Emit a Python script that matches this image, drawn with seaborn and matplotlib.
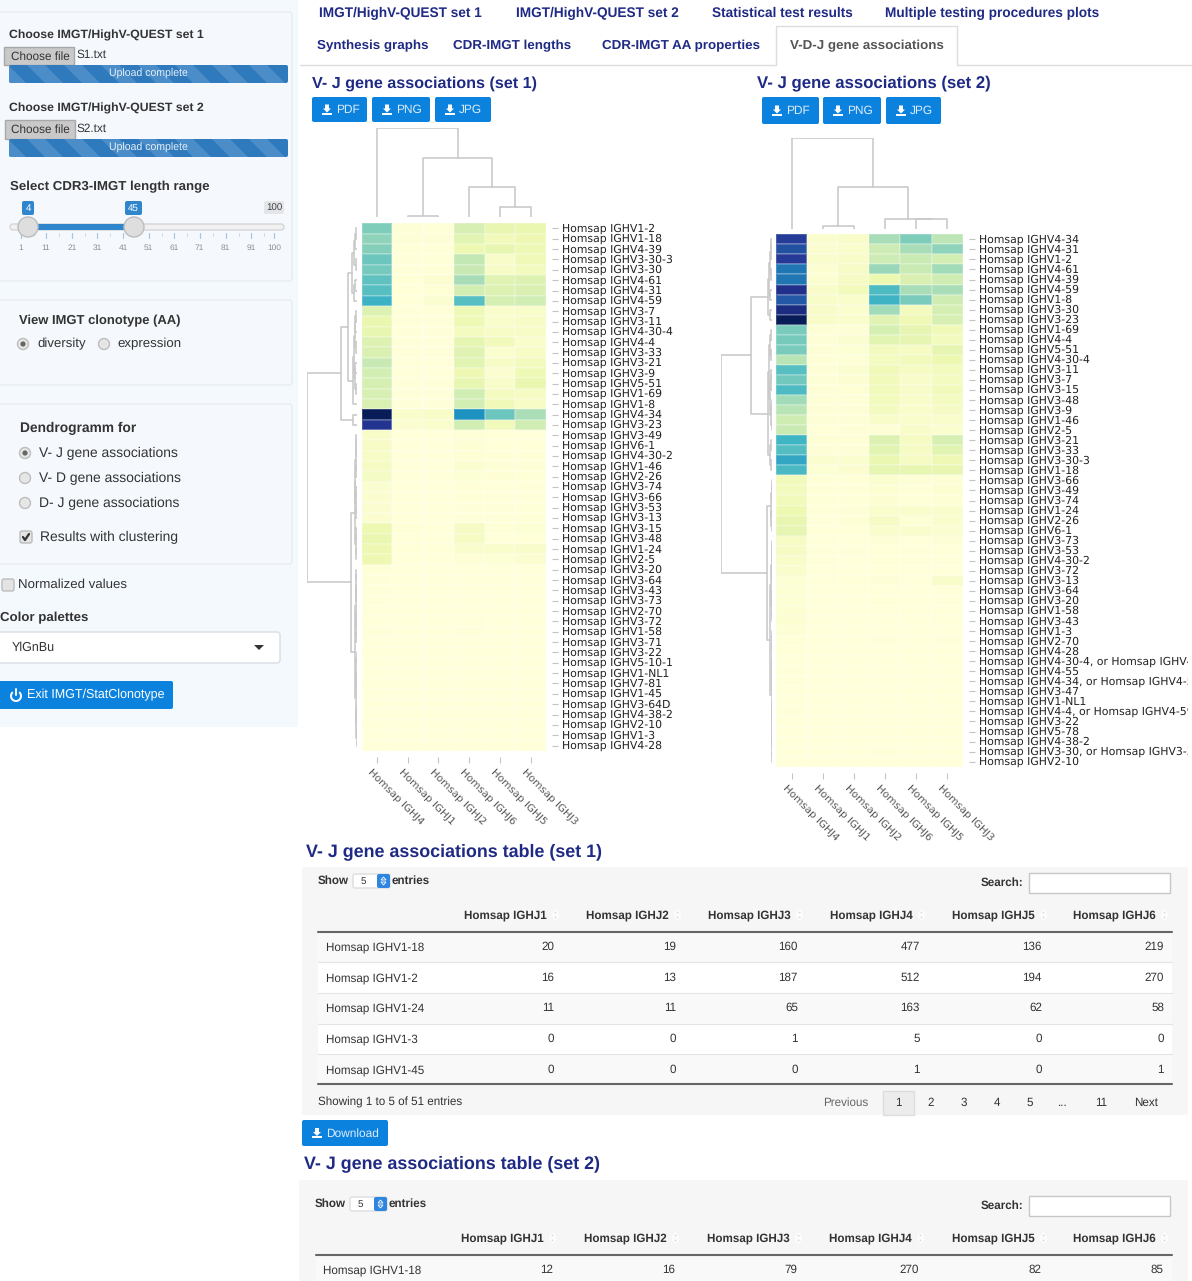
import matplotlib
matplotlib.use('Agg')
import matplotlib.pyplot as plt
from matplotlib.patches import Rectangle, Circle, FancyBboxPatch, Polygon, Arc
from matplotlib.transforms import Bbox, ScaledTranslation
import pandas as pd
import seaborn as sns

sns.set_theme(style='white')
plt.rcParams['font.family'] = ['DejaVu Sans']
plt.rcParams['text.hinting'] = 'none'

# heatmap columns, same order in both sets
j_genes = ['Homsap IGHJ4', 'Homsap IGHJ1', 'Homsap IGHJ2', 'Homsap IGHJ6', 'Homsap IGHJ5', 'Homsap IGHJ3']

v_genes_1 = ['1-2', '1-18', '4-39', '3-30-3', '3-30', '4-61', '4-31', '4-59', '3-7', '3-11', '4-30-4', '4-4',
             '3-33', '3-21', '3-9', '5-51', '1-69', '1-8', '4-34', '3-23', '3-49', '6-1', '4-30-2', '1-46',
             '2-26', '3-74', '3-66', '3-53', '3-13', '3-15', '3-48', '1-24', '2-5', '3-20', '3-64', '3-43',
             '3-73', '2-70', '3-72', '1-58', '3-71', '3-22', '5-10-1', '1-NL1', '7-81', '1-45', '3-64D',
             '4-38-2', '2-10', '1-3', '4-28']

counts_1 = [[512, 16, 13, 270, 194, 187], [477, 20, 19, 219, 136, 160], [500, 15, 15, 170, 200, 150],
            [560, 10, 15, 350, 70, 140], [540, 10, 15, 340, 80, 120], [600, 14, 40, 420, 230, 240],
            [620, 15, 25, 290, 250, 260], [700, 15, 45, 620, 280, 300], [240, 8, 12, 150, 60, 70],
            [190, 8, 10, 150, 60, 80], [200, 10, 10, 110, 85, 80], [250, 8, 10, 210, 130, 60],
            [260, 8, 8, 230, 50, 75], [340, 8, 8, 220, 80, 120], [290, 8, 10, 160, 40, 150],
            [280, 6, 10, 200, 70, 190], [270, 6, 6, 300, 110, 100], [260, 10, 10, 290, 140, 80],
            [1365, 60, 70, 850, 560, 410], [1200, 40, 60, 300, 130, 300], [70, 5, 5, 20, 15, 10],
            [80, 5, 5, 25, 15, 15], [75, 5, 4, 25, 15, 12], [100, 5, 5, 50, 20, 18], [95, 4, 4, 30, 25, 15],
            [45, 3, 3, 15, 8, 8], [42, 3, 3, 12, 6, 10], [40, 3, 3, 10, 6, 12], [40, 3, 3, 10, 6, 15],
            [170, 12, 4, 90, 12, 30], [190, 6, 6, 100, 8, 12], [163, 11, 11, 58, 62, 65], [165, 4, 4, 20, 30, 40],
            [12, 1, 0, 3, 2, 2], [10, 1, 0, 3, 2, 2], [10, 0, 0, 4, 1, 2], [8, 0, 0, 5, 1, 1], [6, 0, 0, 2, 1, 1],
            [5, 0, 0, 8, 1, 1], [8, 0, 0, 8, 1, 1], [4, 0, 0, 2, 0, 1], [3, 0, 0, 1, 0, 0], [2, 0, 0, 1, 0, 1],
            [2, 0, 0, 1, 0, 0], [2, 0, 0, 1, 0, 0], [1, 0, 0, 1, 0, 0], [2, 0, 0, 0, 0, 1], [2, 0, 0, 1, 0, 0],
            [2, 0, 0, 0, 0, 0], [5, 0, 0, 0, 0, 1], [1, 0, 0, 0, 0, 0]]

v_genes_2 = ['4-34', '4-31', '1-2', '4-61', '4-39', '4-59', '1-8', '3-30', '3-23', '1-69', '4-4', '5-51', '4-30-4',
             '3-11', '3-7', '3-15', '3-48', '3-9', '1-46', '2-5', '3-21', '3-33', '3-30-3', '1-18', '3-66', '3-49',
             '3-74', '1-24', '2-26', '6-1', '3-73', '3-53', '4-30-2', '3-72', '3-13', '3-64', '3-20', '1-58', '3-43',
             '1-3', '2-70', '4-28', '4-30-4, or Homsap IGHV4-31', '4-55', '4-34, or Homsap IGHV4-59', '3-47', '1-NL1',
             '4-4, or Homsap IGHV4-59', '3-22', '5-78', '4-38-2', '3-30, or Homsap IGHV3-33', '2-10']

counts_2 = [[476, 20, 30, 170, 210, 150], [440, 18, 25, 130, 170, 195], [480, 22, 30, 130, 135, 120],
            [385, 15, 35, 185, 135, 175], [385, 15, 35, 70, 105, 125], [500, 30, 55, 265, 170, 170],
            [430, 30, 25, 285, 215, 125], [510, 30, 20, 175, 50, 115], [560, 30, 25, 95, 65, 110],
            [215, 8, 8, 115, 85, 60], [220, 8, 18, 90, 85, 50], [215, 8, 12, 50, 40, 85], [155, 6, 8, 45, 55, 70],
            [255, 8, 18, 60, 40, 50], [225, 8, 14, 55, 30, 45], [265, 8, 10, 55, 30, 55], [175, 8, 8, 50, 30, 45],
            [155, 8, 8, 45, 25, 35], [125, 8, 8, 30, 25, 25], [135, 6, 8, 8, 30, 20], [280, 10, 8, 100, 40, 110],
            [260, 8, 8, 90, 40, 90], [310, 20, 20, 75, 40, 65], [270, 12, 16, 85, 82, 79], [55, 5, 5, 20, 8, 10],
            [50, 5, 5, 15, 5, 15], [55, 5, 5, 15, 6, 10], [70, 5, 8, 25, 25, 25], [80, 4, 10, 35, 12, 25],
            [85, 5, 5, 22, 25, 18], [40, 3, 3, 8, 4, 8], [36, 3, 3, 6, 4, 5], [30, 3, 2, 5, 3, 4], [25, 3, 2, 5, 3, 4],
            [12, 3, 6, 8, 3, 30], [12, 2, 2, 3, 2, 3], [12, 2, 2, 6, 2, 3], [14, 2, 2, 3, 3, 4], [14, 2, 1, 2, 2, 3],
            [10, 1, 1, 2, 1, 1], [6, 1, 1, 3, 1, 3], [5, 1, 1, 2, 1, 1], [4, 0, 0, 1, 0, 0], [4, 0, 0, 1, 0, 0],
            [3, 0, 0, 1, 0, 0], [3, 0, 0, 0, 0, 0], [3, 0, 0, 0, 0, 1], [3, 0, 0, 0, 0, 0], [2, 0, 0, 0, 0, 0],
            [2, 0, 0, 1, 0, 0], [2, 0, 0, 0, 0, 0], [2, 0, 0, 3, 0, 0], [2, 0, 0, 0, 0, 0]]

# dendrogram merges: rows/columns a..b-1 join b..c-1 at height h (1 = root)
col_tree_1 = [(1, 2, 3, 0.015), (4, 5, 6, 0.11), (3, 4, 6, 0.34), (1, 3, 6, 0.66), (0, 1, 6, 1.0)]
col_tree_2 = [(1, 2, 3, 0.036), (4, 5, 6, 0.105), (3, 4, 6, 0.11), (1, 3, 6, 0.46), (0, 1, 6, 1.0)]

row_tree_1 = [(0, 1, 2, .02), (0, 2, 3, .035), (3, 4, 5, .015), (0, 3, 5, .05), (5, 6, 7, .025), (5, 7, 8, .06),
              (0, 5, 8, .095), (8, 9, 10, .02), (8, 10, 11, .03), (11, 12, 13, .02), (8, 11, 13, .04),
              (13, 14, 15, .025), (15, 16, 17, .02), (13, 15, 17, .04), (8, 13, 17, .06), (8, 17, 18, .07),
              (0, 8, 18, .17), (18, 19, 20, .08), (0, 18, 20, .318), (20, 21, 22, .006), (20, 22, 23, .008),
              (23, 24, 25, .008), (20, 23, 25, .012), (25, 26, 27, .005), (27, 28, 29, .006), (25, 27, 29, .012),
              (20, 25, 29, .025), (29, 30, 31, .012), (31, 32, 33, .012), (29, 31, 33, .02), (20, 29, 33, .04),
              (33, 34, 35, .005), (35, 36, 37, .005), (33, 35, 37, .01), (37, 38, 39, .004), (39, 40, 41, .008),
              (37, 39, 41, .01), (33, 37, 41, .018), (41, 42, 43, .003), (43, 44, 45, .002), (43, 45, 46, .003),
              (41, 43, 46, .005), (46, 47, 48, .002), (48, 49, 50, .002), (48, 50, 51, .003), (46, 48, 51, .005),
              (41, 46, 51, .01), (33, 41, 51, .03), (20, 33, 51, .12), (0, 20, 51, 1.0)]

row_tree_2 = [(0, 1, 2, .025), (0, 2, 3, .03), (3, 4, 5, .02), (0, 3, 5, .045), (5, 6, 7, .04), (0, 5, 7, .06),
              (7, 8, 9, .05), (0, 7, 9, .08), (9, 10, 11, .02), (11, 12, 13, .025), (9, 11, 13, .035),
              (13, 14, 15, .02), (13, 15, 16, .03), (16, 17, 18, .015), (18, 19, 20, .015), (16, 18, 20, .03),
              (13, 16, 20, .045), (9, 13, 20, .065), (20, 21, 22, .03), (22, 23, 24, .03), (20, 22, 24, .05),
              (9, 20, 24, .08), (0, 9, 24, .407), (24, 25, 26, .01), (24, 26, 27, .015), (28, 29, 30, .012),
              (27, 28, 30, .02), (24, 27, 30, .03), (30, 31, 32, .006), (30, 32, 33, .008), (33, 34, 35, .006),
              (30, 33, 35, .012), (35, 36, 37, .006), (37, 38, 39, .006), (35, 37, 39, .012), (30, 35, 39, .02),
              (39, 40, 41, .004), (39, 41, 42, .005), (42, 43, 44, .003), (44, 45, 46, .003), (42, 44, 46, .005),
              (39, 42, 46, .008), (46, 47, 48, .003), (46, 48, 49, .004), (49, 50, 51, .002), (51, 52, 53, .002),
              (49, 51, 53, .004), (46, 49, 53, .006), (39, 46, 53, .015), (30, 39, 53, .045), (24, 30, 53, .097),
              (0, 24, 53, 1.0)]

# tables under the heatmaps
table_cols = ['Homsap IGHJ1', 'Homsap IGHJ2', 'Homsap IGHJ3', 'Homsap IGHJ4', 'Homsap IGHJ5', 'Homsap IGHJ6']
table_genes_1 = ['Homsap IGHV1-18', 'Homsap IGHV1-2', 'Homsap IGHV1-24', 'Homsap IGHV1-3', 'Homsap IGHV1-45']
table_vals_1 = [[20, 19, 160, 477, 136, 219], [16, 13, 187, 512, 194, 270], [11, 11, 65, 163, 62, 58],
                [0, 0, 1, 5, 0, 0], [0, 0, 0, 1, 0, 1]]
table_genes_2 = ['Homsap IGHV1-18']
table_vals_2 = [[12, 16, 79, 270, 82, 85]]

slider_labels = ['1', '11', '21', '31', '41', '51', '61', '71', '81', '91', '100']
tabs_1 = ['IMGT/HighV-QUEST set 1', 'IMGT/HighV-QUEST set 2', 'Statistical test results',
          'Multiple testing procedures plots']
tabs_2 = ['Synthesis graphs', 'CDR-IMGT lengths', 'CDR-IMGT AA properties']
pages = ['2', '3', '4', '5', '...', '11']

W, H = 1192, 1281
NAVY = '#1f2a85'
BLUE = '#0c82df'
TXT = '#333333'
UI_FONT = 'Liberation Sans'

fig = plt.figure(figsize=(W / 100, H / 100), dpi=100, facecolor='white')
ui = fig.add_axes([0, 0, 1, 1], zorder=0)
ui.set_xlim(0, W)
ui.set_ylim(H, 0)
ui.axis('off')


def t(x, y, s, size=9, color=TXT, bold=False, ha='left'):
    ui.text(x, y + 1, s, fontsize=size, color=color, ha=ha, va='center', family=UI_FONT,
            fontweight='bold' if bold else 'normal')


def box(x0, y0, x1, y1, fc, ec='none', lw=1.0, r=0):
    if r:
        p = FancyBboxPatch((x0 + r, y0 + r), x1 - x0 - 2 * r, y1 - y0 - 2 * r, boxstyle='round,pad=%g' % r,
                           fc=fc, ec=ec, lw=lw)
    else:
        p = Rectangle((x0, y0), x1 - x0, y1 - y0, fc=fc, ec=ec, lw=lw)
    ui.add_patch(p)
    return p


def dl_icon(x, y):
    # little download glyph
    ui.add_patch(Polygon([(x - 2, y - 5), (x + 2, y - 5), (x + 2, y - 1), (x + 4, y - 1), (x, y + 3), (x - 4, y - 1),
                          (x - 2, y - 1)], fc='white', ec='none'))
    ui.add_patch(Rectangle((x - 5, y + 3), 10, 2, fc='white', ec='none'))


def button(x0, y0, x1, y1, label, size=8.6):
    box(x0, y0, x1, y1, BLUE, r=2)
    dl_icon(x0 + 15, (y0 + y1) / 2)
    t(x0 + 24, (y0 + y1) / 2 - 0.5, label, size=size, color='#dcecfa')


def radio(x, y, on=False):
    ui.add_patch(Circle((x, y), 5.5, fc='#e6e6e6', ec='#bdbdbd', lw=1))
    if on:
        ui.add_patch(Circle((x, y), 2.6, fc='#666666', ec='none'))


def checkbox(x, y, on=False):
    box(x - 6, y - 6, x + 6, y + 6, '#e4e4e4', ec='#bcbcbc', r=2)
    if on:
        ui.plot([x - 3, x - 1, x + 3], [y, y + 3, y - 3], color='#333333', lw=1.6)


def upload_bar(y0, y1):
    bar = box(9, y0, 288, y1, '#2f79bd', r=2)
    for sx in range(-10, 300, 37):
        st = Polygon([(sx, y0), (sx + 18, y0), (sx + 36, y1), (sx + 18, y1)], fc='#5595cc', ec='none', alpha=0.75)
        ui.add_patch(st)
        st.set_clip_path(bar)
    t(148, (y0 + y1) / 2 - 1, 'Upload complete', size=7.6, color='#e6f0f8', ha='center')


# left panel
box(0, 0, 298, 727, '#f4f9fe')
for y0, y1 in [(12, 281), (300, 385), (404, 564)]:
    box(-4, y0, 292, y1, '#f5f9fd', ec='#e9edf2', r=3)

t(9, 34, 'Choose IMGT/HighV-QUEST set 1', 8.8, bold=True)
box(4, 47, 74, 65, '#c9c9c9', ec='#a8a8a8')
t(11, 56, 'Choose file', 8.5)
t(76, 54, 'S1.txt', 8.5)
upload_bar(65, 83)
t(9, 107, 'Choose IMGT/HighV-QUEST set 2', 8.8, bold=True)
box(5, 120, 75, 139, '#c9c9c9', ec='#a8a8a8')
t(11, 129, 'Choose file', 8.5)
t(76, 128, 'S2.txt', 8.5)
upload_bar(139, 157)
t(10, 186, 'Select CDR3-IMGT length range', 9.5, bold=True)

# range slider
box(10, 224, 284, 230, '#f1f1f1', ec='#d5d5d5', r=3)
box(28, 224, 134, 230, '#2f86cc')
box(22, 201, 34, 215, '#2f86cc', r=2)
t(28, 207, '4', 7, color='white', ha='center')
box(125, 201, 142, 215, '#2f86cc', r=2)
t(133.5, 207, '45', 7, color='white', ha='center')
box(264, 201, 284, 214, '#e3e5e8', r=2)
t(274, 207, '100', 7, color='#444444', ha='center')
for lab, x in zip(slider_labels, [20.5, 46, 72, 97, 123, 148.5, 174, 199.5, 225.5, 251, 274]):
    t(x, 247, lab, 6, color='#8a8f95', ha='center')
    ui.plot([x, x], [233, 238], color='#a9c6df', lw=0.9)
    if lab != '100':
        ui.plot([x + 13, x + 13], [233, 236], color='#cfdde9', lw=0.7)
for x in [28, 134]:
    ui.add_patch(Circle((x, 227), 10, fc='#dedede', ec='#bcbcbc', lw=1, zorder=3))

t(19, 320, 'View IMGT clonotype (AA)', 9.4, bold=True)
radio(23, 344, True)
t(37, 343, 'diversity', 9.5)
radio(104, 344)
t(117, 343, 'expression', 9.5)

t(20, 427, 'Dendrogramm for', 9.95, bold=True)
radio(25, 453, True)
t(39, 452, 'V- J gene associations', 10)
radio(25, 478)
t(39, 477, 'V- D gene associations', 10)
radio(25, 503)
t(39, 502, 'D- J gene associations', 10)
checkbox(26, 537, True)
t(40, 536, 'Results with clustering', 10)
checkbox(8, 585)
t(18, 584, 'Normalized values', 9.5)
t(0, 617, 'Color palettes', 9.5, bold=True)
box(-3, 632, 280, 663, 'white', ec='#d8dde3', r=3)
t(12, 647, 'YlGnBu', 9)
ui.add_patch(Polygon([(254, 645), (264, 645), (259, 650)], fc='#333333', ec='none'))
box(-3, 681, 173, 709, BLUE, r=2)
ui.add_patch(Arc((16, 696), 10, 10, theta1=-50, theta2=230, ec='white', lw=1.4))
ui.plot([16, 16], [689, 695], color='white', lw=1.4)
t(27, 694, 'Exit IMGT/StatClonotype', 9, color='white')

# tabs
ui.plot([300, 776], [65, 65], color='#dddddd', lw=1)
ui.plot([957, W], [65, 65], color='#dddddd', lw=1)
ui.plot([776, 776, 957, 957], [65, 26, 26, 65], color='#dddddd', lw=1)
for lab, x in zip(tabs_1, [319, 516, 712, 885]):
    t(x, 12, lab, 9.8, color=NAVY, bold=True)
for lab, x in zip(tabs_2, [317, 453, 602]):
    t(x, 44.5, lab, 9.6, color=NAVY, bold=True)
t(790, 45, 'V-D-J gene associations', 9.6, color='#555555', bold=True)

t(312, 83, 'V- J gene associations (set 1)', 11.6, color=NAVY, bold=True)
t(757, 82, 'V- J gene associations (set 2)', 12.1, color=NAVY, bold=True)
for x0, x1, lab in [(312, 367, 'PDF'), (372, 430, 'PNG'), (435, 491, 'JPG')]:
    button(x0, 97, x1, 122, lab)
for x0, x1, lab in [(762, 819, 'PDF'), (823, 881, 'PNG'), (886, 941, 'JPG')]:
    button(x0, 97, x1, 124, lab)


def px_axes(x0, y0, x1, y1):
    return fig.add_axes([x0 / W, 1 - y1 / H, (x1 - x0) / W, (y1 - y0) / H], zorder=2)


def draw_tree(ax, merges, horizontal):
    # children first, leaves sit at the middle of their cell
    pos = {}
    height = {}
    for a, b, c, h in merges:
        p1 = pos.get((a, b), a + 0.5)
        p2 = pos.get((b, c), b + 0.5)
        h1 = height.get((a, b), 0)
        h2 = height.get((b, c), 0)
        if horizontal:
            ax.plot([p1, p1, p2, p2], [h1, h, h, h2], color='#c8c8c8', lw=1.15)
        else:
            ax.plot([h1, h, h, h2], [p1, p1, p2, p2], color='#c8c8c8', lw=1.15)
        pos[(a, c)] = (p1 + p2) / 2
        height[(a, c)] = h


def clustered(counts, genes, vmax, heat_box, col_box, row_box, col_tree, row_tree):
    labels = ['Homsap IGHV' + g for g in genes]
    df = pd.DataFrame(counts, index=labels, columns=j_genes)
    ax = px_axes(*heat_box)
    sns.heatmap(df, ax=ax, cmap='YlGnBu', vmin=0, vmax=vmax, cbar=False, linewidths=0.2, linecolor='#ffffff30',
                yticklabels=True, xticklabels=True)
    ax.yaxis.tick_right()
    for side in ['bottom', 'right']:
        ax.spines[side].set_position(('outward', 4.5))
    ax.tick_params(axis='both', length=4, width=0.8, color='#c4c4c4', bottom=True, right=True, left=False)
    ax.tick_params(axis='x', pad=3, labelcolor='#555555', labelsize=7.5)
    ax.tick_params(axis='y', pad=3, labelcolor='#222222', labelsize=7.8, labelright=True, labelleft=False)
    plt.setp(ax.get_yticklabels(), rotation=0)
    plt.setp(ax.get_xticklabels(), rotation=-45, ha='left', va='top', rotation_mode='anchor')
    nudge_x = ScaledTranslation(-4 / 100, 0, fig.dpi_scale_trans)
    for lab in ax.get_xticklabels():
        lab.set_transform(lab.get_transform() + nudge_x)
    nudge_y = ScaledTranslation(0, 1 / 100, fig.dpi_scale_trans)
    for lab in ax.get_yticklabels():
        lab.set_transform(lab.get_transform() + nudge_y)
    ax.set_xlabel('')
    ax.set_ylabel('')

    top = px_axes(*col_box)
    top.set_xlim(0, len(j_genes))
    top.set_ylim(0, 1)
    top.axis('off')
    draw_tree(top, col_tree, True)

    left = px_axes(*row_box)
    left.set_xlim(1, 0)
    left.set_ylim(len(labels), 0)
    left.axis('off')
    draw_tree(left, row_tree, False)
    return ax


clustered(counts_1, v_genes_1, 1365, (361.7, 223.3, 546, 750.7), (361.7, 127.5, 546, 217),
          (307.3, 223.3, 356.7, 750.7), col_tree_1, row_tree_1)
ax2 = clustered(counts_2, v_genes_2, 560, (776, 234.3, 962.7, 766.7), (776, 138.3, 962.7, 229),
                (720.7, 234.3, 772.3, 766.7), col_tree_2, row_tree_2)
# long labels run off the panel in the app
clip = Bbox.from_extents(0, 0, 1188, H)
for lab in ax2.get_yticklabels():
    lab.set_clip_box(clip)
    lab.set_clip_on(True)


def dt_table(title_xy, well, show_y, search_y, head_y, rule_x, head_right, num_right, label_x, row_ys, genes, vals,
             row_edges, dx):
    t(title_xy[0], title_xy[1], title_xy[2], 12.9, color=NAVY, bold=True)
    box(well[0], well[1], well[2], well[3], '#f6f6f6', r=2)
    t(318 - dx, show_y - 1, 'Show', 8.4, bold=True)
    box(353 - dx, show_y - 7, 390 - dx, show_y + 7, 'white', ec='#dddddd', r=2)
    box(377 - dx, show_y - 7, 390 - dx, show_y + 7, '#2f86e0', r=2)
    ui.add_patch(Polygon([(381 - dx, show_y - 1), (383.5 - dx, show_y - 4), (386 - dx, show_y - 1)], fc='none', ec='white', lw=0.6))
    ui.add_patch(Polygon([(381 - dx, show_y + 1), (383.5 - dx, show_y + 4), (386 - dx, show_y + 1)], fc='none', ec='white', lw=0.6))
    t(361 - dx, show_y - 1, '5', 7)
    t(392 - dx, show_y - 1, 'entries', 8.4, bold=True)
    t(1023, search_y - 1, 'Search:', 8.4, bold=True, ha='right')
    box(1029, search_y - 10, 1170, search_y + 10, 'white', ec='#c8c8c8')
    for lab, xr in zip(table_cols, head_right):
        t(xr, head_y - 1, lab, 8.4, bold=True, ha='right')
        ui.add_patch(Polygon([(xr + 8.5, head_y - 5), (xr + 11.5, head_y - 1), (xr + 5.5, head_y - 1)], fc='#dddddd'))
        ui.add_patch(Polygon([(xr + 8.5, head_y + 5), (xr + 11.5, head_y + 1), (xr + 5.5, head_y + 1)], fc='#dddddd'))
    for i in range(len(row_edges) - 1):
        clipped = min(row_edges[i + 1], H)
        box(rule_x[0], row_edges[i], rule_x[1], clipped, '#f9f9f9' if i % 2 == 0 else 'white')
        if 0 < i + 1 < len(row_edges) - 1:
            ui.plot(rule_x, [row_edges[i + 1]] * 2, color='#e4e4e4', lw=0.8)
    ui.plot(rule_x, [row_edges[0]] * 2, color='#666666', lw=1.5)
    for y, gene, row in zip(row_ys, genes, vals):
        t(label_x, y - 1, gene, 8.4)
        for v, xr in zip(row, num_right):
            t(xr, y - 1, str(v), 8.4, ha='right')


dt_table((306, 851, 'V- J gene associations table (set 1)'), (302, 867, 1188, 1115), 881, 883, 915, [318, 1172],
         [547, 669, 791, 913, 1035, 1156], [554, 676, 798, 920, 1042, 1164], 326, [947, 978, 1008, 1039, 1070],
         table_genes_1, table_vals_1, [932, 962, 993, 1024, 1054, 1084], 0)
ui.plot([318, 1172], [1084, 1084], color='#666666', lw=1.5)
t(318, 1101, 'Showing 1 to 5 of 51 entries', 8.4)
t(846, 1102, 'Previous', 8.4, color='#666666', ha='center')
box(883, 1091, 914, 1115, '#ececec', ec='#dddddd')
t(898, 1102, '1', 8.4, ha='center')
for lab, x in zip(pages, [931, 964, 997, 1030, 1063, 1101]):
    t(x, 1102, lab, 8.4, ha='center')
t(1146, 1102, 'Next', 8.4, ha='center')
box(302, 1120, 388, 1146, BLUE, r=2)
dl_icon(317, 1133)
t(326, 1133, 'Download', 8.6, color='#dcecfa')

dt_table((304, 1163, 'V- J gene associations table (set 2)'), (299, 1180, 1188, H + 10), 1204, 1206, 1238, [316, 1172],
         [544, 667, 790, 912, 1035, 1156], [553, 675, 797, 919, 1041, 1163], 323, [1270],
         table_genes_2, table_vals_2, [1255, 1285], 3)

fig.savefig('out.png', dpi=100)
